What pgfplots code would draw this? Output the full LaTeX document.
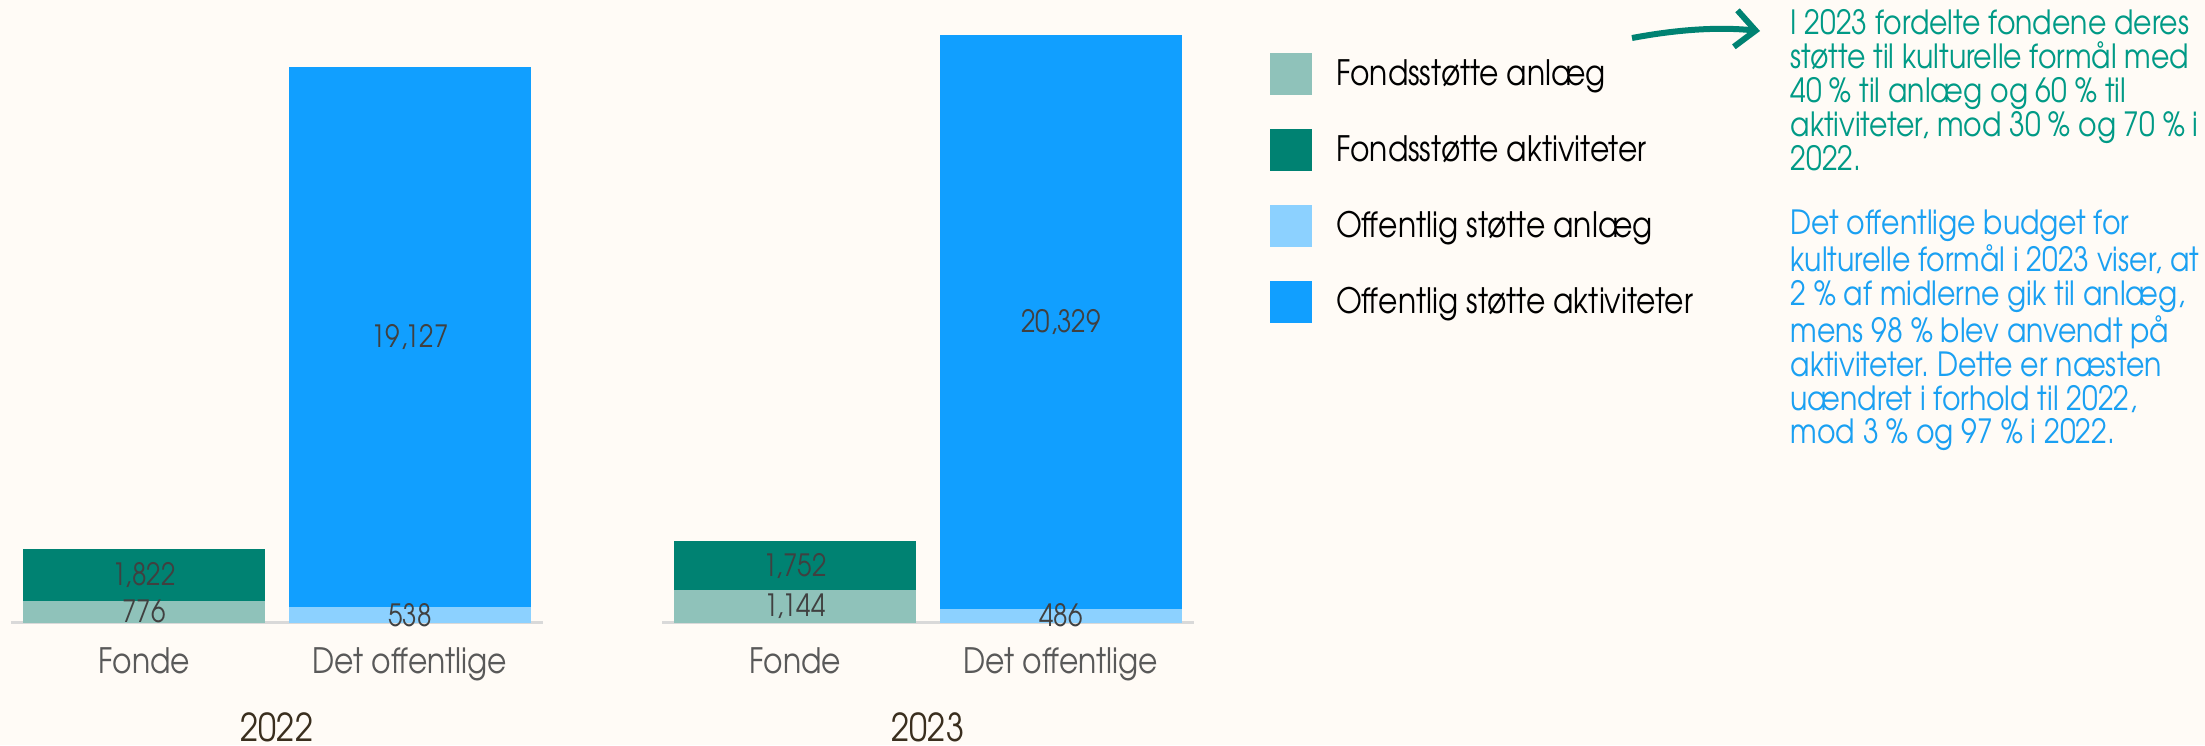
\documentclass[border=0pt]{standalone}
\usepackage{pgfplots}
\pgfplotsset{compat=1.18}
\usepackage{fontspec}
\setmainfont{TeX Gyre Adventor}[FakeStretch=0.85]
\usetikzlibrary{arrows.meta}
\frenchspacing

\definecolor{bg}{HTML}{FFFBF6}
\definecolor{fa}{HTML}{8FC2BA}
\definecolor{fk}{HTML}{008272}
\definecolor{oa}{HTML}{8CD1FF}
\definecolor{ok}{HTML}{119FFF}
\definecolor{axgray}{HTML}{D9D9D9}
\definecolor{valtxt}{HTML}{404040}
\definecolor{cattxt}{HTML}{595959}
\definecolor{yeartxt}{HTML}{3A2E1E}
\definecolor{teal1}{HTML}{009A86}
\definecolor{blue1}{HTML}{1AA0F2}

\pgfplotsset{
  panel/.style={
    ybar stacked,
    scale only axis,
    width=159.6pt,
    height=186.3pt,
    anchor=south west,
    xmin=-0.5, xmax=1.5,
    ymin=0, ymax=22000,
    bar width=0.91,
    clip=false,
    hide y axis,
    axis x line*=bottom,
    x axis line style={draw=axgray, line width=0.9pt},
    xtick={0,1},
    xticklabels={Fonde, Det offentlige},
    major tick length=0pt,
    xticklabel style={font=\fontsize{10.5}{12}\selectfont, text=cattxt, anchor=base, yshift=-15.2pt},
    xlabel style={font=\fontsize{11.5}{13}\selectfont, text=yeartxt, anchor=base, at={(axis description cs:0.5,0)}, yshift=-35.6pt},
    /pgf/number format/assume math mode=true,
    nodes near coords={\pgfmathfloatifflags{\pgfplotspointmeta}{0}{}{\pgfmathprintnumber{\pgfplotspointmeta}}},
    every node near coord/.append style={font=\fontsize{9.2}{10}\selectfont, text=valtxt, anchor=center},
  },
}

\begin{document}
\begin{tikzpicture}[x=0.3pt,y=-0.3pt]
\fill[bg] (0,0) rectangle (2205,745);
\path[use as bounding box] (0,0) rectangle (2205,745);
\coordinate (A) at (11,622.5);
\coordinate (B) at (662,622.5);

\begin{axis}[panel, at={(A)}, xlabel={2022}]
\addplot[fill=fa, draw=none] coordinates {(0,776) (1,0)};
\addplot[fill=fk, draw=none] coordinates {(0,1822) (1,0)};
\addplot[fill=oa, draw=none] coordinates {(0,0) (1,538)};
\addplot[fill=ok, draw=none] coordinates {(0,0) (1,19127)};
\end{axis}

\begin{axis}[panel, at={(B)}, xlabel={2023},
  legend style={at={(1.1429,0.9171)}, anchor=north west, draw=none, fill=none,
    inner sep=0pt, outer sep=0pt, row sep=10.2pt, column sep=7.2pt,
    font=\fontsize{10.5}{12}\selectfont, text=black, nodes={inner sep=0pt}},
  legend cell align=left,
  legend image code/.code={\fill[#1] (0pt,-6.0pt) rectangle (12.6pt,6.6pt);},
]
\addplot[fill=fa, draw=none] coordinates {(0,1144) (1,0)};
\addlegendentry{Fondsstøtte anlæg}
\addplot[fill=fk, draw=none] coordinates {(0,1752) (1,0)};
\addlegendentry{Fondsstøtte aktiviteter}
\addplot[fill=oa, draw=none] coordinates {(0,0) (1,486)};
\addlegendentry{Offentlig støtte anlæg}
\addplot[fill=ok, draw=none] coordinates {(0,0) (1,20329)};
\addlegendentry{Offentlig støtte aktiviteter}
\end{axis}

\draw[fk, line width=1.8pt, -{Straight Barb[length=6pt,width=11pt,line width=1.8pt]}]
  (1632,38) .. controls (1680,29) and (1720,27) .. (1760,31);

\node[anchor=north west, inner sep=0pt, align=left, text=teal1,
  font=\fontsize{10}{10.2}\selectfont] at (1790,9)
  {I 2023 fordelte fondene deres\\
   støtte til kulturelle formål med\\
   40 \% til anlæg og 60 \% til\\
   aktiviteter, mod 30 \% og 70 \% i\\
   2022.};
\node[anchor=north west, inner sep=0pt, align=left, text=blue1,
  font=\fontsize{10}{10.1}\selectfont] at (1790,209)
  {Det offentlige budget for\\
   kulturelle formål i 2023 viser, at\\
   2 \% af midlerne gik til anlæg,\\
   mens 98 \% blev anvendt på\\
   aktiviteter. Dette er næsten\\
   uændret i forhold til 2022,\\
   mod 3 \% og 97 \% i 2022.};
\end{tikzpicture}
\end{document}
